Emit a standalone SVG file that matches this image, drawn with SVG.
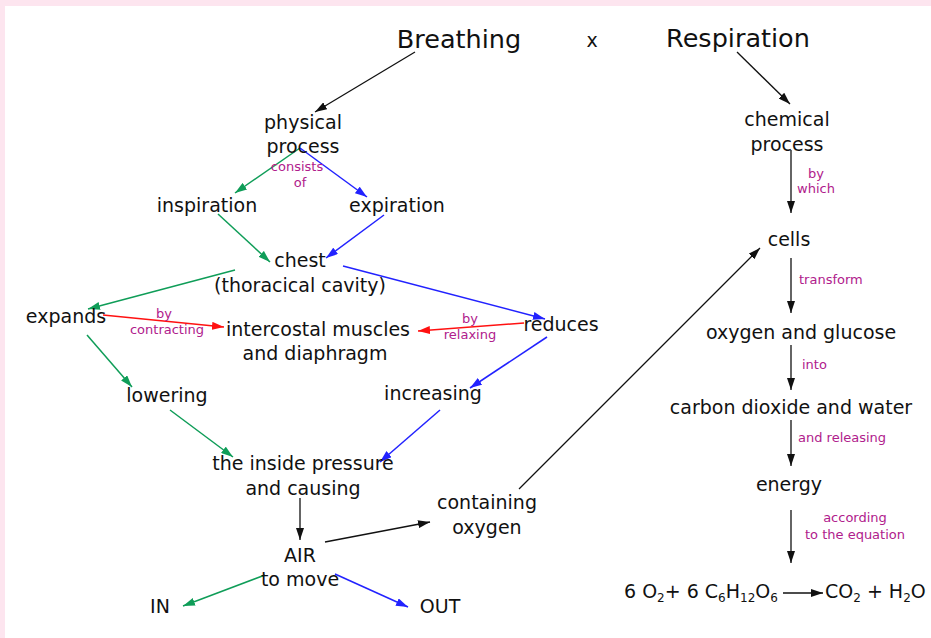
<svg xmlns="http://www.w3.org/2000/svg" width="931" height="638" viewBox="0 0 931 638">
<style>
text{font-family:"DejaVu Sans","Liberation Sans",sans-serif;fill:#111;text-anchor:middle}
.n{font-size:19px}
.e{font-size:19px;text-anchor:start}
.t{font-size:25.5px}
.l{font-size:13px;fill:#b0208c}
.ls{text-anchor:start}
.k{stroke:#111;stroke-width:1.3;fill:none;marker-end:url(#ak)}
.g{stroke:#0f9d58;stroke-width:1.5;fill:none;marker-end:url(#ag)}
.b{stroke:#2222ff;stroke-width:1.5;fill:none;marker-end:url(#ab)}
.r{stroke:#ff1111;stroke-width:1.5;fill:none;marker-end:url(#ar)}
</style>
<defs>
<marker id="ak" viewBox="0 0 12 8" refX="12" refY="4" markerWidth="12" markerHeight="8" markerUnits="userSpaceOnUse" orient="auto"><path d="M0,0 L12,4 L0,8 z" fill="#111"/></marker>
<marker id="ag" viewBox="0 0 12 8" refX="12" refY="4" markerWidth="12" markerHeight="8" markerUnits="userSpaceOnUse" orient="auto"><path d="M0,0 L12,4 L0,8 z" fill="#0f9d58"/></marker>
<marker id="ab" viewBox="0 0 12 8" refX="12" refY="4" markerWidth="12" markerHeight="8" markerUnits="userSpaceOnUse" orient="auto"><path d="M0,0 L12,4 L0,8 z" fill="#2222ff"/></marker>
<marker id="ar" viewBox="0 0 12 8" refX="12" refY="4" markerWidth="12" markerHeight="8" markerUnits="userSpaceOnUse" orient="auto"><path d="M0,0 L12,4 L0,8 z" fill="#ff1111"/></marker>
</defs>
<rect width="931" height="638" fill="#fde5ef"/>
<rect x="5" y="6" width="926" height="632" fill="#fff"/>

<g id="connectors">
<line class="k" x1="415" y1="52" x2="315" y2="112"/>
<line class="k" x1="737" y1="52" x2="790" y2="104"/>
<line class="g" x1="300" y1="148" x2="235" y2="193"/>
<line class="b" x1="300" y1="148" x2="367" y2="197"/>
<line class="g" x1="218" y1="214" x2="270" y2="262"/>
<line class="b" x1="384" y1="215" x2="326" y2="258"/>
<line class="g" x1="235" y1="270" x2="88" y2="309"/>
<line class="b" x1="343" y1="266" x2="545" y2="319"/>
<line class="r" x1="103" y1="315" x2="224" y2="327"/>
<line class="r" x1="524" y1="323" x2="418" y2="331"/>
<line class="g" x1="87" y1="335" x2="132" y2="387"/>
<line class="b" x1="547" y1="337" x2="470" y2="388"/>
<line class="g" x1="170" y1="410" x2="233" y2="457"/>
<line class="b" x1="440" y1="410" x2="380" y2="462"/>
<line class="k" x1="300" y1="498" x2="300" y2="540"/>
<line class="k" x1="325" y1="542" x2="430" y2="522"/>
<line class="k" x1="519" y1="489" x2="760" y2="248"/>
<line class="g" x1="265" y1="575" x2="183" y2="606"/>
<line class="b" x1="335" y1="574" x2="408" y2="607"/>
<line class="k" x1="791" y1="150" x2="791" y2="213"/>
<line class="k" x1="791" y1="258" x2="791" y2="313"/>
<line class="k" x1="791" y1="345" x2="791" y2="390"/>
<line class="k" x1="791" y1="420" x2="791" y2="466"/>
<line class="k" x1="791" y1="510" x2="791" y2="563"/>
<line class="k" x1="783" y1="593" x2="823" y2="593"/>
<text class="l" x="297" y="171">consists</text><text class="l" x="300" y="187">of</text>
<text class="l" x="164" y="318">by</text><text class="l" x="167" y="334">contracting</text>
<text class="l" x="470" y="323">by</text><text class="l" x="470" y="339">relaxing</text>
<text class="l" x="816" y="178">by</text><text class="l" x="816" y="193">which</text>
<text class="l ls" x="799" y="284">transform</text>
<text class="l ls" x="802" y="369">into</text>
<text class="l ls" x="798" y="442">and releasing</text>
<text class="l" x="855" y="522">according</text><text class="l" x="855" y="539">to the equation</text>
</g>

<g id="breathing"><text class="t" x="459" y="48">Breathing</text></g>
<g id="x"><text class="n" x="592" y="47">x</text></g>
<g id="respiration"><text class="t" x="738" y="47">Respiration</text></g>
<g id="physical"><text class="n" x="303" y="129">physical</text><text class="n" x="303" y="153">process</text></g>
<g id="inspiration"><text class="n" x="207" y="212">inspiration</text></g>
<g id="expiration"><text class="n" x="397" y="212">expiration</text></g>
<g id="chest"><text class="n" x="300" y="267">chest</text><text class="n" x="300" y="292">(thoracical cavity)</text></g>
<g id="expands"><text class="n" x="66" y="323">expands</text></g>
<g id="muscles"><text class="n" x="318" y="336">intercostal muscles</text><text class="n" x="315" y="360">and diaphragm</text></g>
<g id="reduces"><text class="n" x="561" y="331">reduces</text></g>
<g id="lowering"><text class="n" x="167" y="402">lowering</text></g>
<g id="increasing"><text class="n" x="433" y="400">increasing</text></g>
<g id="pressure"><text class="n" x="303" y="470">the inside pressure</text><text class="n" x="303" y="495">and causing</text></g>
<g id="containing"><text class="n" x="487" y="509">containing</text><text class="n" x="487" y="534">oxygen</text></g>
<g id="air"><text class="n" x="300" y="562">AIR</text><text class="n" x="300" y="586">to move</text></g>
<g id="in"><text class="n" x="160" y="613">IN</text></g>
<g id="out"><text class="n" x="440" y="613">OUT</text></g>
<g id="chemical"><text class="n" x="787" y="126">chemical</text><text class="n" x="787" y="151">process</text></g>
<g id="cells"><text class="n" x="789" y="246">cells</text></g>
<g id="glucose"><text class="n" x="801" y="339">oxygen and glucose</text></g>
<g id="co2water"><text class="n" x="791" y="414">carbon dioxide and water</text></g>
<g id="energy"><text class="n" x="789" y="491">energy</text></g>
<g id="equation"><text class="e" x="624" y="598">6 O<tspan font-size="12" dy="4">2</tspan><tspan dy="-4">+ 6 C</tspan><tspan font-size="12" dy="4">6</tspan><tspan dy="-4">H</tspan><tspan font-size="12" dy="4">12</tspan><tspan dy="-4">O</tspan><tspan font-size="12" dy="4">6</tspan></text>
<text class="e" x="825" y="598">CO<tspan font-size="12" dy="4">2</tspan><tspan dy="-4"> + H</tspan><tspan font-size="12" dy="4">2</tspan><tspan dy="-4">O</tspan></text></g>
</svg>
